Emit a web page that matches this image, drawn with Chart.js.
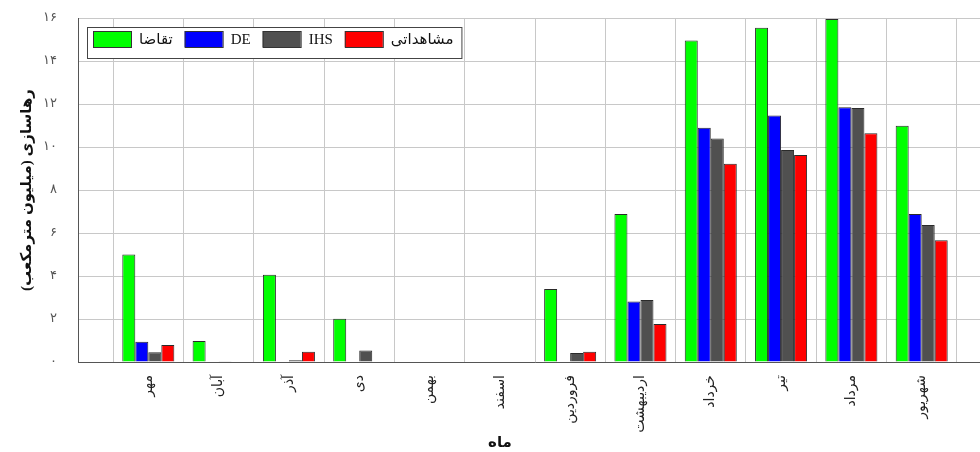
<!DOCTYPE html>
<html>
<head>
<meta charset="utf-8">
<script src="https://cdn.jsdelivr.net/npm/chart.js@4.4.1/dist/chart.umd.min.js"></script>
<style>
  html, body { margin: 0; padding: 0; background: #fff; overflow: hidden; }
  #wrap { width: 1000px; height: 452px; }
  canvas { display: block; }
</style>
</head>
<body>
<div id="wrap"><canvas id="chart" dir="rtl" width="1000" height="452"></canvas></div>
<script>
// months (Persian calendar), water year order
const months = ['مهر', 'آبان', 'آذر', 'دی', 'بهمن', 'اسفند', 'فروردین', 'اردیبهشت', 'خرداد', 'تیر', 'مرداد', 'شهریور'];
const demand = [5.0, 0.98, 4.06, 2.01, 0, 0, 3.40, 6.88, 14.95, 15.55, 15.95, 10.99];
const de = [0.94, 0, 0, 0, 0, 0, 0, 2.81, 10.9, 11.47, 11.85, 6.88];
const ihs = [0.45, 0.03, 0.08, 0.54, 0, 0, 0.42, 2.88, 10.4, 9.86, 11.81, 6.37];
const observed = [0.79, 0, 0.48, 0, 0, 0, 0.48, 1.77, 9.22, 9.63, 10.64, 5.66];
const yTickLabels = ['۰', '۲', '۴', '۶', '۸', '۱۰', '۱۲', '۱۴', '۱۶'];
const xTitle = 'ماه';

const FONT = "'Liberation Serif', 'DejaVu Sans', serif";

// empty slot on each side so the first/last group sit one step in from the axis
const pad = arr => [null, ...arr, null];

// legend drawn as a box inside the plot, top-left
const boxLegend = {
  id: 'boxLegend',
  afterDraw(chart) {
    const ctx = chart.ctx;
    const x0 = chart.chartArea.left + 9, y0 = 27, h = 31;
    ctx.save();
    ctx.font = '15px ' + FONT;
    let x = x0 + 6;
    const items = chart.data.datasets.map(ds => {
      const tw = ctx.measureText(ds.label).width;
      const it = { ds, x, tw };
      x += 38 + 8 + tw + 12;
      return it;
    });
    const w = x - x0 - 4;
    ctx.fillStyle = '#fff';
    ctx.fillRect(x0, y0, w, h);
    ctx.strokeStyle = '#444';
    ctx.lineWidth = 1;
    ctx.strokeRect(x0 + 0.5, y0 + 0.5, w, h);
    items.forEach(it => {
      ctx.fillStyle = it.ds.backgroundColor;
      ctx.fillRect(it.x, y0 + 4, 38, 16);
      ctx.strokeStyle = '#333';
      ctx.strokeRect(it.x + 0.5, y0 + 4.5, 38, 16);
      ctx.fillStyle = '#111';
      ctx.textAlign = 'left';
      ctx.textBaseline = 'middle';
      ctx.fillText(it.ds.label, it.x + 38 + 8, y0 + 13);
    });
    // x axis title sits left of the plot centre in the original
    ctx.font = 'bold 15px ' + FONT;
    ctx.textAlign = 'center';
    ctx.fillText(xTitle, 500, 443);
    ctx.restore();
  }
};

new Chart(document.getElementById('chart'), {
  type: 'bar',
  data: {
    labels: ['', ...months, ''],
    datasets: [
      { label: 'تقاضا', data: pad(demand), backgroundColor: '#00ff00' },
      { label: 'DE', data: pad(de), backgroundColor: '#0000ff' },
      { label: 'IHS', data: pad(ihs), backgroundColor: '#505050' },
      { label: 'مشاهداتی', data: pad(observed), backgroundColor: '#ff0000' }
    ]
  },
  options: {
    responsive: false,
    animation: false,
    layout: { padding: { top: 18, right: 8, left: 0, bottom: 0 } },
    datasets: {
      bar: { borderColor: '#2a2a2a', borderWidth: 1, categoryPercentage: 0.74, barPercentage: 1 }
    },
    plugins: { legend: { display: false }, tooltip: { enabled: false } },
    scales: {
      x: {
        offset: false,
        grid: { color: '#c8c8c8', drawTicks: false },
        border: { color: '#555' },
        ticks: {
          autoSkip: false, minRotation: 90, maxRotation: 90, padding: 13,
          color: '#222', font: { family: FONT, size: 14 }
        },
        afterFit: s => { s.height = 90; s.paddingLeft = 0; s.paddingRight = 0; }
      },
      y: {
        min: 0, max: 16,
        grid: { color: '#c8c8c8', drawTicks: false },
        border: { color: '#555' },
        ticks: {
          stepSize: 2, padding: 21, color: '#555',
          font: { family: FONT, size: 13 },
          callback: v => yTickLabels[v / 2]
        },
        title: {
          display: true, text: 'رهاسازی (میلیون مترمکعب)', color: '#111',
          font: { family: FONT, size: 15, weight: 'bold' }, padding: { top: 18, bottom: 0 }
        },
        afterFit: s => { s.width = 78; s.paddingTop = 0; s.paddingBottom = 0; }
      }
    }
  },
  plugins: [boxLegend]
});
</script>
</body>
</html>
